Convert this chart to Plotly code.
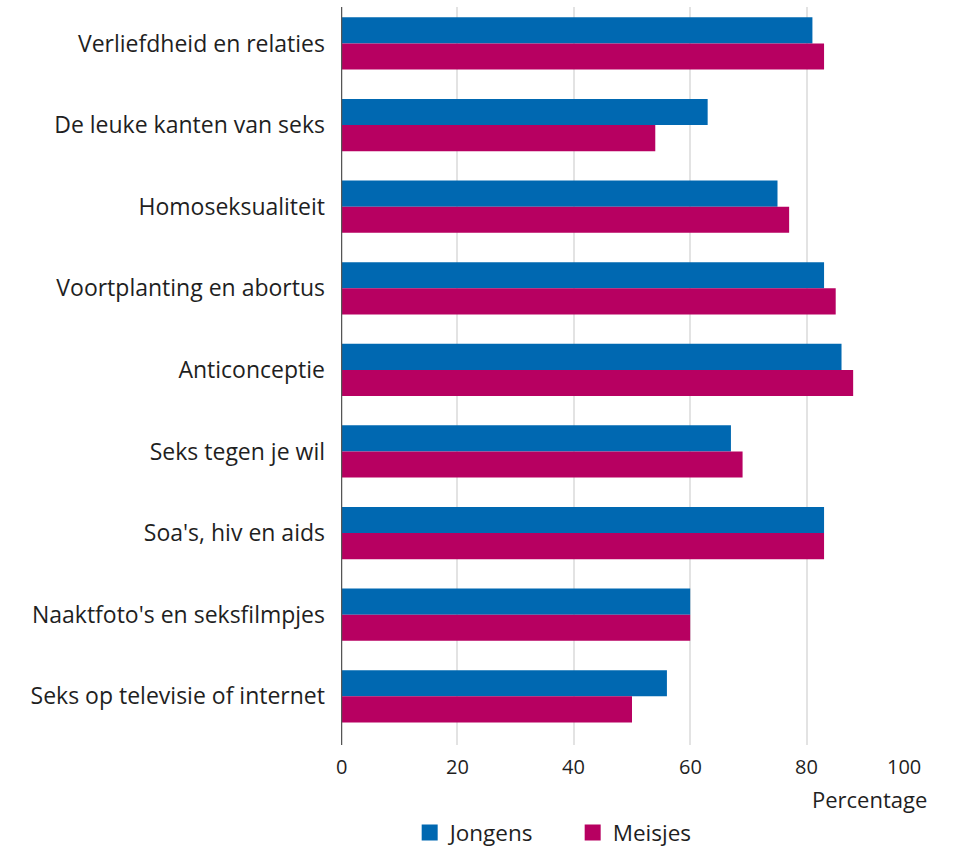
import plotly.graph_objects as go

categories = [
    "Verliefdheid en relaties",
    "De leuke kanten van seks",
    "Homoseksualiteit",
    "Voortplanting en abortus",
    "Anticonceptie",
    "Seks tegen je wil",
    "Soa's, hiv en aids",
    "Naaktfoto's en seksfilmpjes",
    "Seks op televisie of internet",
]
jongens = [81, 63, 75, 83, 86, 67, 83, 60, 56]
meisjes = [83, 54, 77, 85, 88, 69, 83, 60, 50]
x_ticks = [0, 20, 40, 60, 80, 100]
x_ticktext = ["0", "20", "40", "60", "80", "100"]

BLUE = "#0068b1"
MAGENTA = "#b70061"
FONT = "Open Sans"
TXT = "#1f1f1f"

fig = go.Figure()
fig.add_trace(go.Bar(y=categories, x=jongens, orientation="h", name="Jongens",
                     marker=dict(color=BLUE, line=dict(width=0)), showlegend=False))
fig.add_trace(go.Bar(y=categories, x=meisjes, orientation="h", name="Meisjes",
                     marker=dict(color=MAGENTA, line=dict(width=0)), showlegend=False))
# legend entries
fig.add_trace(go.Scatter(x=[None], y=[None], mode="markers", name="Jongens",
                         marker=dict(symbol="square", size=19, color=BLUE)))
fig.add_trace(go.Scatter(x=[None], y=[None], mode="markers", name="Meisjes",
                         marker=dict(symbol="square", size=19, color=MAGENTA)))

fig.update_layout(
    width=955, height=849,
    margin=dict(l=341, r=32, t=7, b=104, autoexpand=False),
    paper_bgcolor="white", plot_bgcolor="white",
    barmode="group", bargap=0.36, bargroupgap=0,
    font=dict(family=FONT, size=20, color=TXT),
    showlegend=True,
    legend=dict(orientation="h", x=0.118, xanchor="left", y=-0.119, yanchor="middle",
                font=dict(size=22.5), itemwidth=30, entrywidth=118, traceorder="normal",
                borderwidth=0, tracegroupgap=0),
    xaxis=dict(range=[0, 100], tickvals=x_ticks, showticklabels=False, showgrid=True,
               gridcolor="#e3e3e3", gridwidth=1.5, zeroline=False, showline=False,
               ticks=""),
    yaxis=dict(type="category", categoryorder="array", categoryarray=categories,
               range=[8.597, -0.447], showgrid=False, ticks="",
               showline=False, tickfont=dict(size=23), ticklabelstandoff=15),
)
fig.add_shape(type="line", xref="x", yref="paper", x0=0, x1=0, y0=0, y1=1,
              line=dict(color="#555555", width=2.5))
# x tick labels (last one right-aligned to its gridline, as in the reference)
for i, (v, t) in enumerate(zip(x_ticks, x_ticktext)):
    fig.add_annotation(text=t, xref="x", yref="paper", x=v, y=-0.0285,
                       xanchor="right" if i == len(x_ticks) - 1 else "center",
                       yanchor="middle", showarrow=False,
                       font=dict(size=20, color=TXT))
fig.add_annotation(text="Percentage", xref="paper", yref="paper", x=1.01, y=-0.0725,
                   xanchor="right", yanchor="middle", showarrow=False,
                   font=dict(size=22, color=TXT))

fig.write_html("out.html", config={"displayModeBar": False},
               post_script="document.body.style.margin='0px';")
